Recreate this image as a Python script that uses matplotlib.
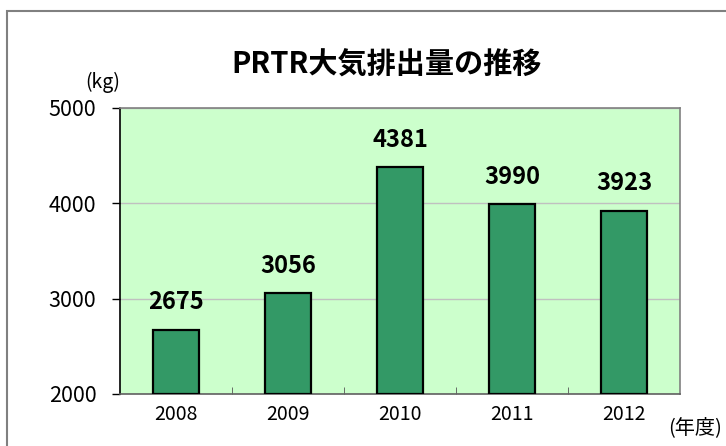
import matplotlib

matplotlib.use("Agg")
import matplotlib.pyplot as plt
from matplotlib.patches import Rectangle
from matplotlib.ticker import FixedLocator

plt.rcParams["font.family"] = ["Noto Sans CJK JP", "DejaVu Sans"]

years = ["2008", "2009", "2010", "2011", "2012"]
values = [2675, 3056, 4381, 3990, 3923]
yticks = [2000, 3000, 4000, 5000]

BAR, PLOT_BG = "#339966", "#CCFFCC"

fig = plt.figure(figsize=(7.26, 4.46), dpi=100, facecolor="white")
ax = fig.add_axes([120 / 726, 1 - 394 / 446, 560 / 726, 286 / 446])
ax.set_facecolor(PLOT_BG)

x = list(range(len(years)))
ax.bar(x, [v - 2000 for v in values], bottom=2000, width=0.41,
       color=BAR, edgecolor="black", linewidth=1.6, zorder=3)
for xi, v in zip(x, values):
    ax.annotate(str(v), (xi, v), xytext=(0, 11), textcoords="offset points",
                ha="center", va="bottom", fontsize=17, fontweight="bold")

ax.set_xlim(-0.5, len(years) - 0.5)
ax.set_ylim(2000, 5000)
ax.set_yticks(yticks)
ax.set_yticklabels([str(t) for t in yticks], fontsize=15.5)
ax.set_xticks(x)
ax.set_xticklabels(years, fontsize=14)
ax.tick_params(axis="x", which="major", length=0, pad=7)
ax.xaxis.set_minor_locator(FixedLocator([i + 0.5 for i in range(len(years) - 1)]))
ax.tick_params(axis="x", which="minor", direction="in", length=5, color="#555555")
ax.tick_params(axis="y", direction="out", length=6, width=1, pad=11)
ax.grid(axis="y", color="#C0C0C0", linewidth=1, zorder=0)

for side in ("top", "right"):
    ax.spines[side].set_color("#808080")
ax.spines["left"].set_color("black")
ax.spines["bottom"].set_color("#606060")
for sp in ax.spines.values():
    sp.set_linewidth(1.2)

fig.text(387 / 726, 1 - 65 / 446, "PRTR大気排出量の推移", ha="center", va="center",
         fontsize=21, fontweight="bold")
fig.text(103 / 726, 1 - 82 / 446, "(kg)", ha="center", va="center", fontsize=14)
fig.text(722 / 726, 1 - 428 / 446, "(年度)", ha="right", va="center", fontsize=14.5)

fig.add_artist(Rectangle((7 / 726, -0.1), 1.2, 1 - 11 / 446 + 0.1,
                         transform=fig.transFigure, fill=False,
                         edgecolor="#808080", linewidth=1.5))

fig.savefig("out.png", dpi=100, facecolor="white")
